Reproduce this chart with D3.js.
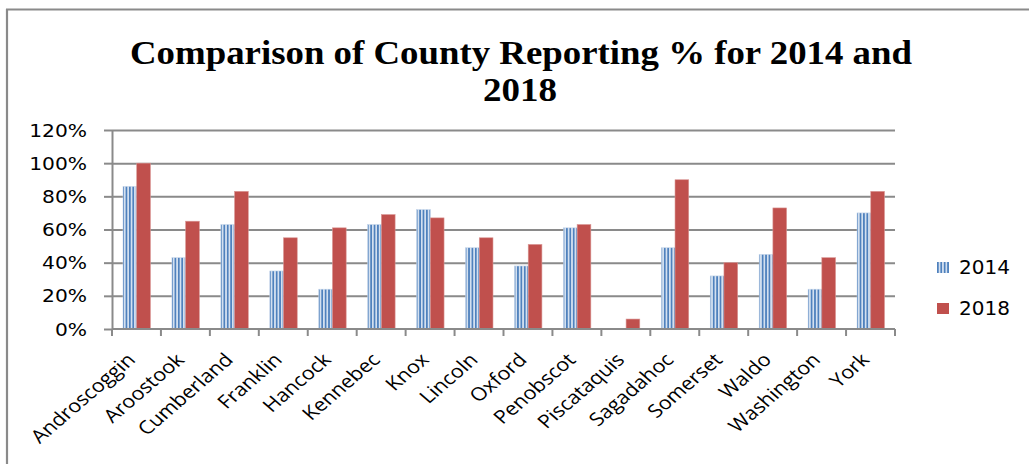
<!DOCTYPE html>
<html><head><meta charset="utf-8">
<script src="https://cdn.jsdelivr.net/npm/d3@7"></script>
<style>body{margin:0;background:#fff;overflow:hidden}</style></head><body>
<svg id="c" width="1029" height="464"></svg>
<script>
const categories = ["Androscoggin","Aroostook","Cumberland","Franklin","Hancock","Kennebec","Knox","Lincoln","Oxford","Penobscot","Piscataquis","Sagadahoc","Somerset","Waldo","Washington","York"];
const values2014 = [86,43,63,35,24,63,72,49,38,61,0,49,32,45,24,70];
const values2018 = [100,65,83,55,61,69,67,55,51,63,6,90,40,73,43,83];
const seriesNames = ["2014","2018"];
const yTicks = [0,20,40,60,80,100,120];
const titleLines = ["Comparison  of County Reporting % for 2014 and","2018"];

const svg = d3.select("#c");
const L = 112, R = 895, T = 130, B = 329;
const gray = "#8a8a8a";
const blue = "#4f81bd", red = "#c0504d";

// frame
svg.append("line").attr("x1",6).attr("x2",1029).attr("y1",9.5).attr("y2",9.5).attr("stroke",gray).attr("stroke-width",2);
svg.append("line").attr("x1",7).attr("x2",7).attr("y1",9).attr("y2",464).attr("stroke",gray).attr("stroke-width",2.2);

// pattern
const defs = svg.append("defs");
const pat = defs.append("pattern").attr("id","stripes").attr("patternUnits","userSpaceOnUse")
  .attr("width",3.4).attr("height",10);
pat.append("rect").attr("width",3.4).attr("height",10).attr("fill","#d3e0f0");
pat.append("rect").attr("x",0).attr("width",1.7).attr("height",10).attr("fill",blue);

const x = d3.scaleBand().domain(categories).range([L,R]).paddingInner(0).paddingOuter(0);
const y = d3.scaleLinear().domain([0,120]).range([B,T]);
const bw = x.bandwidth();
const barW = bw*0.28;
const xs = d3.scaleBand().domain(seriesNames).range([bw*0.225, bw*0.225+2*barW]).padding(0);

// gridlines
svg.append("g").attr("transform",`translate(${L},0)`)
  .call(d3.axisLeft(y).tickValues(yTicks.slice(1)).tickSize(-(R-L)).tickFormat(""))
  .call(g=>{g.select(".domain").remove(); g.selectAll(".tick line").attr("stroke",gray).attr("stroke-width",2);});

// y axis
svg.append("g").attr("transform",`translate(${L},0)`)
  .call(d3.axisLeft(y).tickValues(yTicks).tickSize(8).tickSizeOuter(0).tickPadding(16).tickFormat(d=>d+"%"))
  .call(g=>{
    g.select(".domain").attr("stroke",gray).attr("stroke-width",2);
    g.selectAll(".tick line").attr("stroke",gray).attr("stroke-width",2);
    g.selectAll(".tick text").attr("font-family","DejaVu Sans").attr("font-size",17).attr("fill","#000")
      .attr("text-anchor","end").attr("x",0).attr("dy","0.36em")
      .attr("transform","translate(-25,0) scale(1.19,1)");
  });

// bars
const groups = svg.append("g").selectAll("g").data(categories).join("g")
  .attr("transform",d=>`translate(${x(d)},0)`);
groups.append("rect").attr("x",xs("2014")).attr("width",xs.bandwidth())
  .attr("y",(d,i)=>y(values2014[i])).attr("height",(d,i)=>B-y(values2014[i]))
  .attr("fill","url(#stripes)").attr("stroke","#c6d6ea").attr("stroke-width",0.6);
groups.append("rect").attr("x",xs("2018")).attr("width",xs.bandwidth())
  .attr("y",(d,i)=>y(values2018[i])).attr("height",(d,i)=>B-y(values2018[i]))
  .attr("fill",red).attr("stroke","#d99694").attr("stroke-width",0.6);

// x axis line and ticks
svg.append("line").attr("x1",L).attr("x2",R).attr("y1",B).attr("y2",B).attr("stroke",gray).attr("stroke-width",2);
const bounds = categories.map(c=>x(c)).concat([x(categories[categories.length-1])+bw]);
svg.append("g").selectAll("line").data(bounds).join("line")
  .attr("x1",d=>d).attr("x2",d=>d).attr("y1",B).attr("y2",B+7).attr("stroke",gray).attr("stroke-width",2);

// x labels
svg.append("g").selectAll("text").data(categories).join("text")
  .attr("transform",d=>`translate(${x(d)+bw/2},361) scale(1.16,1) rotate(-45)`)
  .attr("text-anchor","end").attr("font-family","Open Sans").attr("font-size",18.5).attr("fill","#000")
  .text(d=>d);

// title
const tt = svg.append("g");
tt.append("text").attr("x",521).attr("y",64).attr("text-anchor","middle")
  .attr("font-family","Liberation Serif").attr("font-weight","bold").attr("font-size",34)
  .attr("textLength",782).attr("lengthAdjust","spacingAndGlyphs").text(titleLines[0]);
tt.append("text").attr("x",520).attr("y",101).attr("text-anchor","middle")
  .attr("font-family","Liberation Serif").attr("font-weight","bold").attr("font-size",34)
  .attr("textLength",74).attr("lengthAdjust","spacingAndGlyphs").text(titleLines[1]);

// legend
const lg = svg.append("g").selectAll("g").data(seriesNames).join("g")
  .attr("transform",(d,i)=>`translate(937,${262+i*41})`);
lg.append("rect").attr("width",12).attr("height",11).attr("fill",(d,i)=>i===0?"url(#stripes)":red);
lg.append("text").attr("x",22).attr("y",12).attr("font-family","DejaVu Sans").attr("font-size",20)
  .attr("fill","#000").text(d=>d);
</script>
</body></html>
